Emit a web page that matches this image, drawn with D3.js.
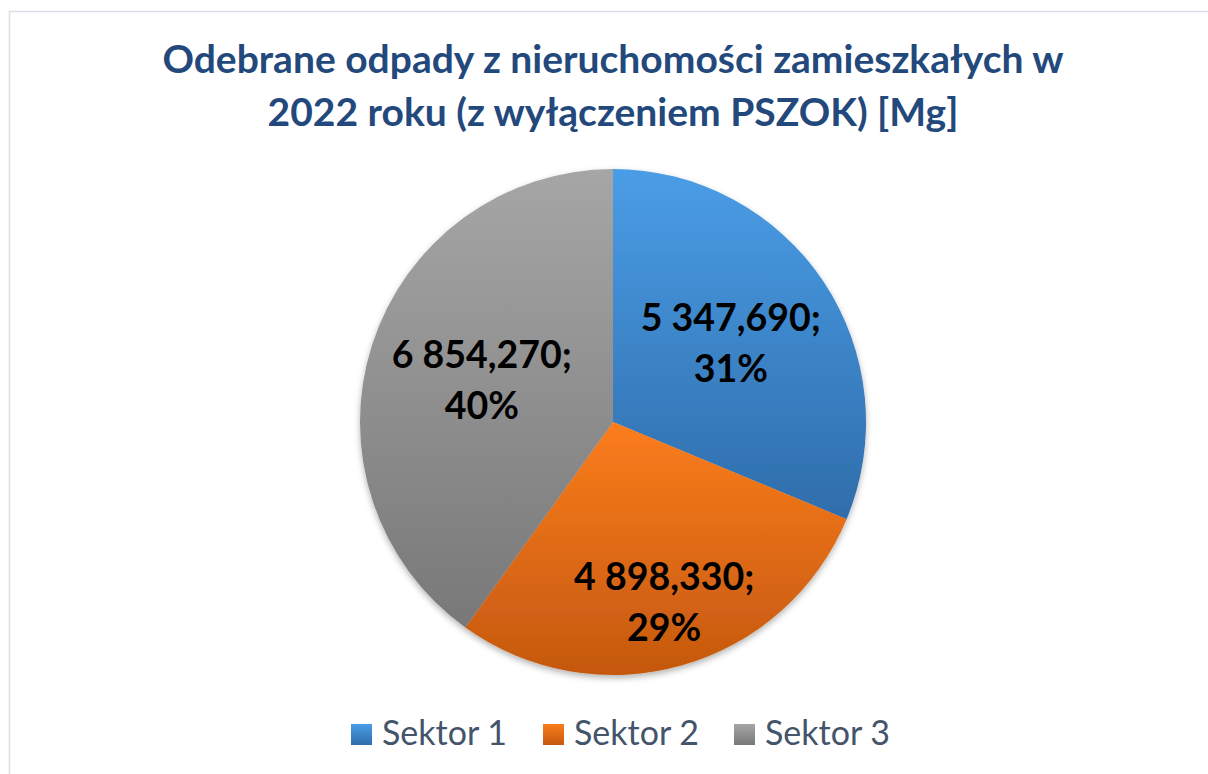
<!DOCTYPE html>
<html>
<head>
<meta charset="utf-8">
<script src="https://cdn.jsdelivr.net/npm/d3@7"></script>
<style>
  html, body { margin: 0; padding: 0; background: #ffffff; }
  svg { display: block; }
</style>
</head>
<body>
<svg id="chart" width="1208" height="774"></svg>
<script>
// ---- data ----
const categories = ["Sektor 1", "Sektor 2", "Sektor 3"];
const values = [5347.690, 4898.330, 6854.270];
const titleLines = ["Odebrane odpady z nieruchomości zamieszkałych w", "2022 roku (z wyłączeniem PSZOK) [Mg]"];

// ---- style ----
const colorsTop = ["#4a9de6", "#fb7d1c", "#a6a6a6"];
const colorsBottom = ["#2f6dab", "#c4580f", "#787878"];
const labelRadiusFrac = [0.56, 0.74, 0.545];

const W = 1208, H = 774;
const cx = 613, cy = 422, R = 253;

const svg = d3.select("#chart");
const defs = svg.append("defs");

categories.forEach((c, i) => {
  const g = defs.append("linearGradient")
    .attr("id", "grad" + i)
    .attr("x1", 0).attr("y1", 0).attr("x2", 0).attr("y2", 1);
  g.append("stop").attr("offset", "0%").attr("stop-color", colorsTop[i]);
  g.append("stop").attr("offset", "100%").attr("stop-color", colorsBottom[i]);
});

const f = defs.append("filter").attr("id", "shadow")
  .attr("x", "-10%").attr("y", "-10%").attr("width", "120%").attr("height", "120%");
f.append("feDropShadow").attr("dx", 0).attr("dy", 3).attr("stdDeviation", 3)
  .attr("flood-color", "#000").attr("flood-opacity", 0.3);

// border
svg.append("rect")
  .attr("x", 9.5).attr("y", 11.5)
  .attr("width", W + 20).attr("height", H + 20)
  .attr("fill", "#ffffff")
  .attr("stroke", "#d9dee6").attr("stroke-width", 1.5);

// title
const title = svg.append("text")
  .attr("text-anchor", "middle")
  .attr("font-family", "Lato, 'Open Sans', sans-serif")
  .attr("font-weight", "bold")
  .attr("font-size", 39)
  .attr("fill", "#23497c");
titleLines.forEach((t, i) => {
  title.append("tspan").attr("x", cx).attr("y", 73 + i * 53).text(t);
});

// pie
const pie = d3.pie().sort(null).value(d => d);
const arcs = pie(values);
const arc = d3.arc().innerRadius(0).outerRadius(R);

const g = svg.append("g").attr("transform", `translate(${cx},${cy})`);
g.append("g").attr("filter", "url(#shadow)")
  .selectAll("path")
  .data(arcs)
  .enter().append("path")
  .attr("d", arc)
  .attr("fill", (d, i) => `url(#grad${i})`);

const total = d3.sum(values);
const loc = d3.formatLocale({ decimal: ",", thousands: " ", grouping: [3], currency: ["", " zł"] });
const fmtNum = loc.format(",.3f");
const fmtPct = d3.format(".0%");

arcs.forEach((d, i) => {
  const la = d3.arc().innerRadius(R * labelRadiusFrac[i]).outerRadius(R * labelRadiusFrac[i]);
  const [lx, ly] = la.centroid(d);
  const t = g.append("text")
    .attr("text-anchor", "middle")
    .attr("font-family", "Lato, 'Open Sans', sans-serif")
    .attr("font-weight", "bold")
    .attr("font-size", 37.5)
    .attr("fill", "#000000");
  t.append("tspan").attr("x", lx).attr("y", ly - 12).text(fmtNum(d.data) + ";");
  t.append("tspan").attr("x", lx).attr("y", ly + 39).text(fmtPct(d.data / total));
});

// legend
const legendX = [351, 543, 734];
const lg = svg.append("g");
categories.forEach((c, i) => {
  lg.append("rect")
    .attr("x", legendX[i]).attr("y", 724)
    .attr("width", 21).attr("height", 21)
    .attr("fill", `url(#grad${i})`);
  lg.append("text")
    .attr("x", legendX[i] + 31).attr("y", 745)
    .attr("font-family", "Lato, 'Open Sans', sans-serif")
    .attr("font-size", 34)
    .attr("fill", "#44546a")
    .text(c);
});
</script>
</body>
</html>
